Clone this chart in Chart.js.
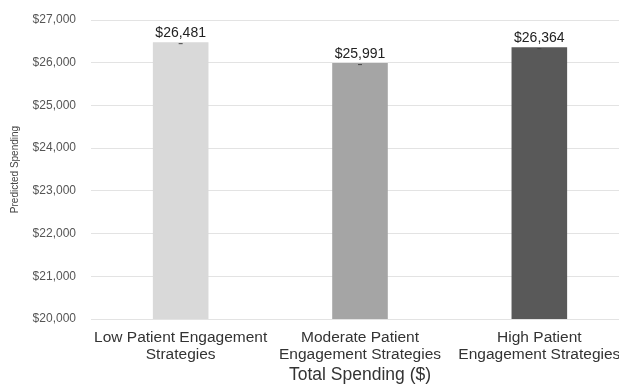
<!DOCTYPE html>
<html>
<head>
<meta charset="utf-8">
<script src="https://cdn.jsdelivr.net/npm/chart.js@4/dist/chart.umd.min.js"></script>
<style>
  html, body { margin: 0; padding: 0; background: #fff; overflow: hidden; }
  #wrap { width: 630px; height: 386px; position: relative; }
</style>
</head>
<body>
<div id="wrap"><canvas id="spendChart"></canvas></div>
<script>
const categories = [
    ['Low Patient Engagement', 'Strategies'],
    ['Moderate Patient', 'Engagement Strategies'],
    ['High Patient', 'Engagement Strategies']
];
const spending = [26481, 25991, 26364];
const barColors = ['#d9d9d9', '#a5a5a5', '#595959'];
const yMin = 20000;
const yMax = 27000;

const FONT = '"Liberation Sans", Arial, sans-serif';

function money(v) {
    return '$' + Math.round(v).toLocaleString('en-US');
}

// value labels + small cap mark on top of each bar
const barLabels = {
    id: 'barLabels',
    afterDatasetsDraw(chart) {
        const ctx = chart.ctx;
        const meta = chart.getDatasetMeta(0);
        ctx.save();
        meta.data.forEach((bar, i) => {
            ctx.strokeStyle = '#444';
            ctx.lineWidth = 1;
            ctx.beginPath();
            ctx.moveTo(bar.x - 2, bar.y + 1.5);
            ctx.lineTo(bar.x + 2, bar.y + 1.5);
            ctx.stroke();
            ctx.fillStyle = '#222';
            ctx.font = '14px ' + FONT;
            ctx.textAlign = 'center';
            ctx.textBaseline = 'alphabetic';
            ctx.fillText(money(spending[i]), bar.x, bar.y - 5);
        });
        ctx.restore();
    }
};

const ctx = document.getElementById('spendChart').getContext('2d');
new Chart(ctx, {
    type: 'bar',
    data: {
        labels: categories,
        datasets: [{
            data: spending,
            backgroundColor: barColors,
            barPercentage: 0.31,
            categoryPercentage: 1.0
        }]
    },
    options: {
        responsive: true,
        maintainAspectRatio: false,
        animation: false,
        layout: { padding: { top: 20, right: 1, left: 0, bottom: 0 } },
        plugins: {
            legend: { display: false },
            tooltip: { enabled: false }
        },
        scales: {
            x: {
                grid: { display: false, drawTicks: false },
                border: { color: '#e3e3e3', width: 1 },
                ticks: {
                    color: '#333',
                    font: { family: FONT, size: 15.5, lineHeight: 1.1 },
                    padding: 10,
                    maxRotation: 0,
                    autoSkip: false
                },
                title: {
                    display: true,
                    text: 'Total Spending ($)',
                    color: '#333',
                    font: { family: FONT, size: 17.5 },
                    padding: { top: 0, bottom: 0 }
                },
                afterFit(scale) {
                    scale.height = 67;
                    scale.paddingLeft = 0;
                    scale.paddingRight = 0;
                }
            },
            y: {
                min: yMin,
                max: yMax,
                grid: { color: '#e3e3e3', drawTicks: false },
                border: { display: false },
                ticks: {
                    stepSize: 1000,
                    color: '#555',
                    font: { family: FONT, size: 12 },
                    padding: 15,
                    callback: (v) => money(v)
                },
                title: {
                    display: true,
                    text: 'Predicted Spending',
                    color: '#444',
                    font: { family: FONT, size: 10 },
                    padding: { top: 9, bottom: 0 }
                },
                afterFit(scale) {
                    scale.width = 91;
                    scale.paddingTop = 0;
                    scale.paddingBottom = 0;
                }
            }
        }
    },
    plugins: [barLabels]
});
</script>
</body>
</html>
